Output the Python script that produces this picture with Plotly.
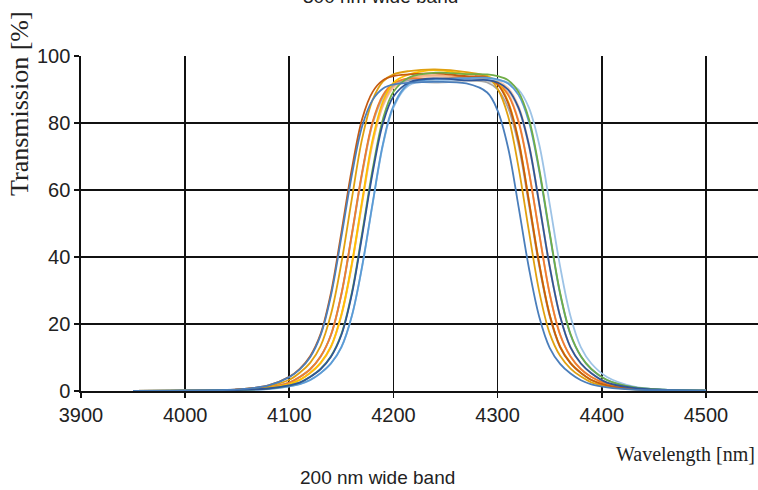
import plotly.graph_objects as go

# Wavelength sample points (nm)
wavelength = [3950, 4000, 4050, 4080, 4100, 4110, 4120, 4130, 4140, 4150, 4160, 4170, 4180,
              4190, 4200, 4215, 4240, 4270, 4290, 4300, 4310, 4320, 4330, 4340, 4350, 4360,
              4370, 4380, 4390, 4405, 4430, 4460, 4500]

# Transmission (%) of each filter
filter_a = [0.05, 0.14, 0.46, 1.66, 4.14, 6.44, 10.1, 16.6, 28.5, 46, 64.4, 79.1, 86.9, 90.3, 91.5, 92,
            92.3, 91.8,
            89.1, 83.7, 72.7, 55.2, 36.8, 22.1, 12.9, 8.1, 5.2, 3.2, 2.0, 1.1, 0.41, 0.23, 0.09]
filter_b = [0.05, 0.14, 0.47, 1.7, 4.25, 6.6, 10.4, 17.0, 29.3, 47.3, 66.2, 81.3, 89.3, 92.8, 94.0, 94.5,
            94.8, 94.0,
            93.6, 91.5, 86.0, 74.7, 56.7, 37.8, 22.7, 13.2, 8.3, 5.4, 3.3, 1.7, 0.61, 0.28, 0.11]
filter_c = [0.05, 0.13, 0.43, 1.43, 3.34, 5.44, 8.4, 13.4, 22.9, 38.2, 57.3, 75.4, 86.9, 92.4, 94.5, 95.5,
            96.0, 95.2,
            93.8, 90.2, 82.1, 66.9, 47.8, 29.6, 17.2, 10.5, 6.7, 4.3, 2.6, 1.4, 0.48, 0.27, 0.1]
filter_d = [0.04, 0.12, 0.37, 1.12, 2.5, 4.2, 6.5, 10.2, 16.7, 28.8, 46.5, 65.1, 80.0, 87.9, 91.3, 92.8,
            93.2, 92.8,
            92.1, 90.0, 84.6, 73.5, 55.8, 37.2, 22.3, 13.0, 8.2, 5.3, 3.3, 1.7, 0.6, 0.28, 0.11]
filter_e = [0.04, 0.12, 0.37, 1.12, 2.52, 4.2, 6.5, 10.3, 16.8, 29.0, 46.8, 65.5, 80.4, 88.4, 91.8, 93.3,
            93.0, 93.8,
            93.0, 91.8, 88.4, 80.4, 65.5, 46.8, 29.0, 16.8, 10.3, 6.5, 4.2, 2.1, 0.75, 0.3, 0.12]
filter_f = [0.03, 0.11, 0.33, 0.94, 2.07, 3.3, 5.36, 8.27, 13.2, 22.6, 37.6, 56.4, 74.3, 85.5, 91.0, 93.5,
            94.2, 93.6,
            93.5, 92.3, 88.8, 80.8, 65.8, 47.0, 29.1, 16.9, 10.3, 6.6, 4.2, 2.1, 0.75, 0.3, 0.12]
filter_g = [0.03, 0.11, 0.33, 0.95, 2.09, 3.33, 5.4, 8.4, 13.3, 22.8, 38.0, 57.0, 75.1, 86.5, 92.0, 94.5,
            95.8, 94.6,
            94.1, 92.0, 86.5, 75.1, 57.0, 38.0, 22.8, 13.3, 8.4, 5.4, 3.3, 1.7, 0.62, 0.29, 0.11]
filter_h = [0.04, 0.12, 0.37, 1.11, 2.5, 4.16, 6.5, 10.2, 16.7, 28.7, 46.3, 64.8, 79.6, 87.4, 90.8, 92.3,
            92.0, 92.6,
            92.3, 91.6, 89.5, 84.2, 73.1, 55.5, 37.0, 22.2, 13.0, 8.1, 5.3, 2.5, 0.93, 0.32, 0.13]
filter_i = [0.02, 0.1, 0.3, 0.74, 1.67, 2.5, 4.2, 6.5, 10.2, 16.7, 28.8, 46.5, 65.1, 80.0, 87.9, 92.1,
            93.3, 92.7,
            92.8, 92.1, 90.0, 84.6, 73.5, 55.8, 37.2, 22.3, 13.0, 8.2, 5.3, 2.5, 0.93, 0.33, 0.13]
filter_j = [0.02, 0.1, 0.3, 0.76, 1.7, 2.55, 4.25, 6.6, 10.4, 17.0, 29.3, 47.3, 66.2, 81.3, 89.3, 93.6,
            95.0, 94.6,
            94.5, 94.0, 92.8, 89.3, 81.3, 66.2, 47.3, 29.3, 17.0, 10.4, 6.6, 3.3, 1.13, 0.38, 0.14]
filter_k = [0.0, 0.09, 0.28, 0.61, 1.4, 2.06, 3.27, 5.33, 8.23, 13.1, 22.4, 37.4, 56.1, 73.9, 85.1, 91.8,
            93.0, 93.4,
            93.5, 93.0, 91.8, 88.4, 80.4, 65.5, 46.8, 29.0, 16.8, 10.3, 6.5, 3.3, 1.12, 0.37, 0.14]
filter_m = [0.0, 0.09, 0.28, 0.6, 1.4, 2.05, 3.26, 5.3, 8.2, 13.0, 22.3, 37.2, 55.8, 73.5, 84.6, 91.3,
            92.5, 93.0,
            93.0, 92.8, 92.1, 90.0, 84.6, 73.5, 55.8, 37.2, 22.3, 13.0, 8.2, 4.2, 1.4, 0.42, 0.15]
filter_n = [0.03, 0.11, 0.33, 0.94, 2.06, 3.27, 5.33, 8.23, 13.1, 22.4, 37.4, 56.1, 73.9, 85.1, 90.5, 93.0,
            93.8, 93.2,
            93.3, 92.6, 90.5, 85.1, 73.9, 56.1, 37.4, 22.4, 13.1, 8.2, 5.3, 2.5, 0.94, 0.33, 0.13]

series = [filter_h, filter_n, filter_f, filter_d, filter_e, filter_g, filter_c, filter_b,
          filter_m, filter_k, filter_j, filter_i, filter_a]
colors = ["#CFCFCF", "#F8CBAD", "#F4B183", "#A5A5A5", "#ED7D31", "#FFC000", "#E0A010", "#C55A11",
          "#9DC3E6", "#5B9BD5", "#70AD47", "#2F5597", "#4A7EBB"]

x_ticks = [3900, 4000, 4100, 4200, 4300, 4400, 4500]
y_ticks = [0, 20, 40, 60, 80, 100]

fig = go.Figure()
for vals, col in zip(series, colors):
    fig.add_trace(go.Scatter(x=wavelength, y=vals, mode="lines",
                             line=dict(color=col, width=1.8, shape="spline", smoothing=1.0),
                             showlegend=False, hoverinfo="skip"))

sans = "Liberation Sans, Arial, sans-serif"
serif = "Liberation Serif, Times New Roman, serif"
tick_font = dict(family=sans, size=20, color="#222222")

fig.update_layout(
    width=758, height=490,
    margin=dict(l=81, r=0, t=56, b=99),
    paper_bgcolor="white", plot_bgcolor="white",
    showlegend=False,
    xaxis=dict(range=[3900, 4550], tickvals=x_ticks, ticktext=[str(v) for v in x_ticks],
               showgrid=True, gridcolor="#111111", gridwidth=1.7,
               showline=True, linecolor="#111111", linewidth=1.7,
               ticks="outside", ticklen=5, tickcolor="#111111", tickwidth=1.7,
               tickfont=tick_font, zeroline=False, fixedrange=True),
    yaxis=dict(range=[0, 100], tickvals=y_ticks, ticktext=[str(v) for v in y_ticks],
               showgrid=True, gridcolor="#111111", gridwidth=1.7,
               showline=True, linecolor="#111111", linewidth=1.7,
               ticks="outside", ticklen=5, tickcolor="#111111", tickwidth=1.7,
               tickfont=tick_font, zeroline=False, fixedrange=True),
    annotations=[
        dict(text="Transmission [%]", xref="paper", yref="paper", x=-0.09, y=0.857,
             xanchor="center", yanchor="middle", textangle=-90, showarrow=False,
             font=dict(family=serif, size=26, color="#222222")),
        dict(text="Wavelength [nm]", xref="paper", yref="paper", x=0.999, y=-0.19,
             xanchor="right", yanchor="middle", showarrow=False,
             font=dict(family=serif, size=20, color="#222222")),
        dict(text="200 nm wide band", xref="paper", yref="paper", x=0.4375, y=-0.258,
             xanchor="center", yanchor="middle", showarrow=False,
             font=dict(family=sans, size=19, color="#222222")),
        dict(text="300 nm wide band", xref="paper", yref="paper", x=0.4417, y=1.178,
             xanchor="center", yanchor="middle", showarrow=False,
             font=dict(family=sans, size=19, color="#222222")),
    ],
)

fig.write_html("out.html", config={"displayModeBar": False, "staticPlot": True},
               post_script="document.body.style.margin='0';")
